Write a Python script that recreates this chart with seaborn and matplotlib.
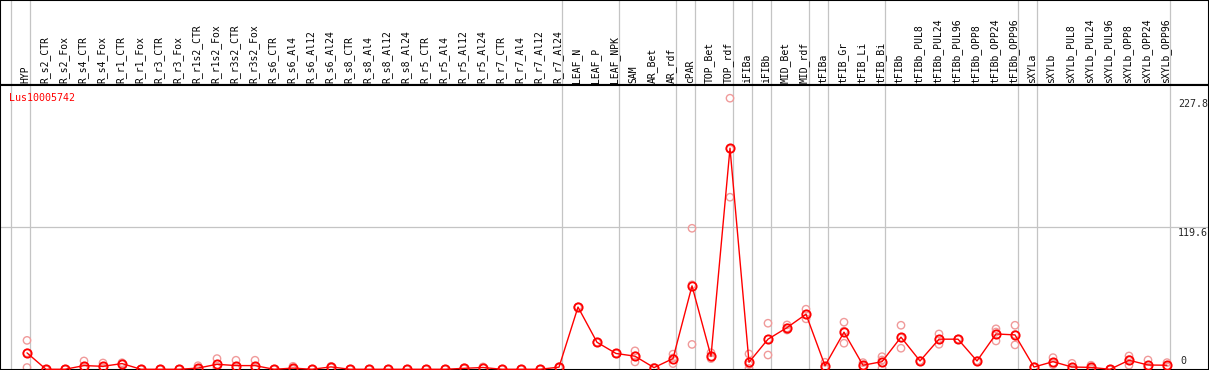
import numpy as np
import pandas as pd
import seaborn as sns
import matplotlib.pyplot as plt
from matplotlib.transforms import blended_transform_factory

## datos
muestras = ['HYP', 'R_s2_CTR', 'R_s2_Fox', 'R_s4_CTR', 'R_s4_Fox', 'R_r1_CTR', 'R_r1_Fox',
            'R_r3_CTR', 'R_r3_Fox', 'R_r1s2_CTR', 'R_r1s2_Fox', 'R_r3s2_CTR', 'R_r3s2_Fox',
            'R_s6_CTR', 'R_s6_Al4', 'R_s6_Al12', 'R_s6_Al24', 'R_s8_CTR', 'R_s8_Al4', 'R_s8_Al12',
            'R_s8_Al24', 'R_r5_CTR', 'R_r5_Al4', 'R_r5_Al12', 'R_r5_Al24', 'R_r7_CTR', 'R_r7_Al4',
            'R_r7_Al12', 'R_r7_Al24', 'LEAF_N', 'LEAF_P', 'LEAF_NPK', 'SAM', 'AR_Bet', 'AR_rdf',
            'cPAR', 'TOP_Bet', 'TOP_rdf', 'iFIBa', 'iFIBb', 'MID_Bet', 'MID_rdf', 'tFIBa',
            'tFIB_Gr', 'tFIB_Li', 'tFIB_Bi', 'tFIBb', 'tFIBb_PUL8', 'tFIBb_PUL24', 'tFIBb_PUL96',
            'tFIBb_OPP8', 'tFIBb_OPP24', 'tFIBb_OPP96', 'sXYLa', 'sXYLb', 'sXYLb_PUL8',
            'sXYLb_PUL24', 'sXYLb_PUL96', 'sXYLb_OPP8', 'sXYLb_OPP24', 'sXYLb_OPP96']

media = [13.8, 0, 0, 3.1, 2.5, 4.8, 0, 0, 0, 1.0, 4.2, 3.1, 3.1,
         0, 1.0, 0, 2.0, 0, 0, 0, 0, 0, 0, 0.8, 1.5, 0, 0, 0, 1.8,
         52.3, 22.7, 13.3, 11.0, 1.4, 9.0, 70.1, 11.0, 185.8, 5.9, 25.3, 35.0, 46.3, 3.0,
         31.2, 3.4, 6.4, 27.0, 7.0, 25.3, 25.3, 7.0, 29.7, 28.9,
         1.9, 6.4, 1.9, 1.6, 0, 7.6, 3.6, 3.4]

rep1 = [24.3, 0, 0, 7.0, 5.3, 5.5, 0, 0, 0, 3.0, 9.0, 7.6, 7.6,
        0, 2.5, 0, 2.5, 0, 0, 0, 0, 0, 0, 1.2, 2.0, 0, 0, 0, 2.2,
        52.3, 22.7, 13.3, 15.5, 1.4, 12.7, 118.5, 13.9, 227.8, 12.9, 38.7, 37.3, 50.5, 5.9,
        39.6, 5.6, 10.6, 37.0, 7.0, 29.7, 25.3, 7.0, 34.0, 37.0,
        1.9, 9.8, 5.0, 3.4, 0, 11.2, 7.8, 5.6]
rep2 = [13.8, 0, 0, 1.5, 1.5, 4.5, 0, 0, 0, 0, 2.5, 1.2, 1.2,
        0, 0.5, 0, 2.0, 0, 0, 0, 0, 0, 0, 0.8, 1.5, 0, 0, 0, 1.8,
        52.3, 22.7, 13.3, 11.3, 1.4, 9.5, 71.0, 10.1, 185.0, 4.0, 25.2, 34.7, 46.0, 2.3,
        32.1, 2.8, 7.8, 26.3, 7.0, 25.2, 25.3, 7.0, 31.3, 29.2,
        1.9, 5.5, 0.5, 1.0, 0, 8.2, 2.0, 2.5]
rep3 = [1.5, 0, 0, 0.8, 0.7, 4.4, 0, 0, 0, 0, 1.1, 0.5, 0.5,
        0, 0, 0, 1.5, 0, 0, 0, 0, 0, 0, 0.4, 1.0, 0, 0, 0, 1.4,
        52.3, 22.7, 13.3, 6.2, 1.4, 4.8, 20.9, 9.0, 144.6, 0.8, 12.0, 33.0, 42.4, 0.8,
        21.9, 1.8, 0.8, 17.7, 7.0, 21.0, 25.3, 7.0, 23.8, 20.5,
        1.9, 3.9, 0.2, 0.4, 0, 3.4, 1.0, 2.1]

# fin de cada grupo de muestras (lineas verticales)
fin_grupo = [-1, 0, 28, 31, 34, 35, 37, 38, 39, 41, 42, 45, 52, 53, 60]
marcas_y = [227.8, 119.6]
gen = 'Lus10005742'

## setting
W, H, TOP = 1209, 370, 85
sns.set_theme(style="white")
plt.rcParams['font.family'] = ['DejaVu Sans Mono']

n = len(muestras)
pos = np.arange(n)
df_media = pd.DataFrame({'POS': pos, 'VAL': media})
df_rep = pd.DataFrame({'POS': np.tile(pos, 3), 'VAL': rep1 + rep2 + rep3})

fig = plt.figure(figsize=(W / 100, H / 100), dpi=100)
ax_lab = fig.add_axes([0, 1 - TOP / H, 1, TOP / H])
ax = fig.add_axes([0, 0, 1, (H - TOP) / H], sharex=ax_lab)

xmin = -27 / 19.0
xmax = xmin + W / 19.0
ax.set_xlim(xmin, xmax)
ax.set_ylim(-0.6, 238.9)
ax_lab.set_ylim(0, 1)

gris = '#c4c4c4'
for k in fin_grupo:
    ax.axvline(k + 0.18, color=gris, lw=0.9, zorder=1)
    ax_lab.axvline(k + 0.18, color=gris, lw=0.9, zorder=1)
ax.axhline(119.6, color=gris, lw=0.9, zorder=1)

sns.scatterplot(data=df_rep, x='POS', y='VAL', ax=ax, marker='o', s=28,
                facecolor='none', edgecolor='#f09a9a', linewidth=1.0, zorder=2, clip_on=True)
sns.lineplot(data=df_media, x='POS', y='VAL', ax=ax, color='red', lw=1.0,
             marker='o', markersize=6, markerfacecolor='none', markeredgecolor='red',
             markeredgewidth=1.3, zorder=3)

for a in (ax, ax_lab):
    a.set_xticks([])
    a.set_yticks([])
    a.set_xlabel('')
    a.set_ylabel('')
    for s in a.spines.values():
        s.set_color('black')
        s.set_linewidth(1.5)

trans = ax_lab.get_xaxis_transform()
for i, m in enumerate(muestras):
    ax_lab.text(i - 0.08, 0.025, m, rotation=90, ha='center', va='bottom',
                fontsize=7, color='black', transform=trans)

ax.text(9 / W, 1 - 12.7 / (H - TOP), gen, transform=ax.transAxes, color='red',
        fontsize=7.2, ha='left', va='center')

ty = blended_transform_factory(ax.transAxes, ax.transData)
for v in marcas_y:
    ax.annotate(f'{v}', xy=(1178 / W, v), xycoords=ty, xytext=(0, -1),
                textcoords='offset pixels', ha='left', va='top', fontsize=7.2)
ax.annotate('0', xy=(1180 / W, 0), xycoords=ty, xytext=(0, 3),
            textcoords='offset pixels', ha='left', va='bottom', fontsize=7.2)

fig.savefig('out.png', dpi=100)
